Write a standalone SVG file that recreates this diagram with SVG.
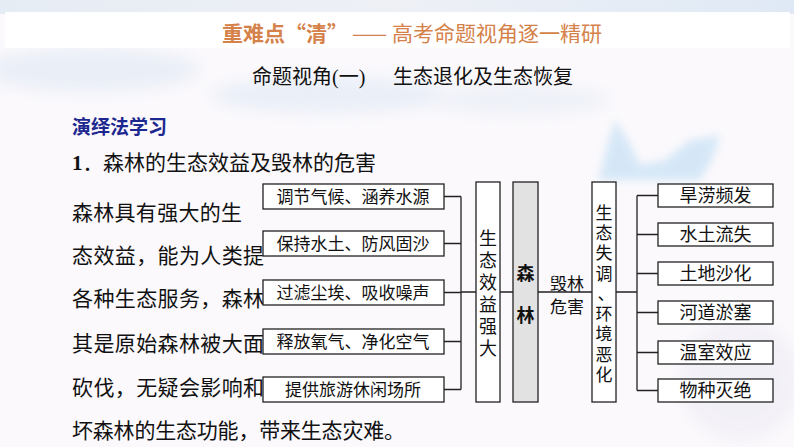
<svg xmlns="http://www.w3.org/2000/svg" width="794" height="447" viewBox="0 0 794 447">
<defs>
<filter id="blur8" x="-50%" y="-50%" width="200%" height="200%"><feGaussianBlur stdDeviation="8"/></filter>
<filter id="blur4" x="-50%" y="-50%" width="200%" height="200%"><feGaussianBlur stdDeviation="4"/></filter>
<linearGradient id="topg" x1="0" y1="0" x2="1" y2="0">
<stop offset="0" stop-color="#e6ecf4"/><stop offset="0.5" stop-color="#eef0f6"/><stop offset="1" stop-color="#dfe9f5"/>
</linearGradient>
<style>
.body{font-family:"Liberation Serif","Noto Sans CJK SC",serif;font-size:21px;fill:#111}
.box{fill:#fff;stroke:#222;stroke-width:1.3}
.gbox{fill:#e2e2e2;stroke:#222;stroke-width:1.3}
.bt{font-family:"Liberation Serif","Noto Sans CJK SC",serif;font-size:17px;fill:#111;text-anchor:middle}
.rt{font-family:"Liberation Serif","Noto Sans CJK SC",serif;font-size:18px;fill:#111;text-anchor:middle}
.vt{font-family:"Liberation Serif","Noto Sans CJK SC",serif;font-size:18px;fill:#111;text-anchor:middle}
.vs{font-family:"Liberation Serif","Noto Sans CJK SC",serif;font-size:17px;fill:#111;text-anchor:middle}
.ln{fill:none;stroke:#222;stroke-width:1.3}
</style>
</defs>
<!-- background -->
<rect x="0" y="0" width="794" height="447" fill="#fbf9fc"/>
<rect x="0" y="0" width="794" height="14" fill="url(#topg)"/>
<g filter="url(#blur8)" opacity="0.55">
<ellipse cx="90" cy="70" rx="110" ry="22" fill="#dce6f3"/>
<ellipse cx="330" cy="95" rx="120" ry="18" fill="#dbe6f4"/>
<ellipse cx="520" cy="100" rx="90" ry="15" fill="#e3eaf5"/>
<ellipse cx="740" cy="380" rx="60" ry="60" fill="#ece9f3"/>
</g>
<g filter="url(#blur4)" opacity="0.45">
<path d="M598 180 L606 150 L615 120 L628 140 L640 165 L665 160 L690 140 L720 135 L712 160 L700 180 Z" fill="#a9d3f2"/>
</g>
<rect x="5" y="12" width="785" height="36" fill="#ffffff" opacity="0.92"/>
<!-- titles -->
<text x="222" y="41" font-family="'Noto Sans CJK SC',sans-serif" font-size="21" font-weight="bold" fill="#d5824a">重难点“清”</text>
<text x="352" y="41" font-family="'Noto Sans CJK SC',sans-serif" font-size="21" fill="#d5824a">—— 高考命题视角逐一精研</text>
<text x="252" y="84" font-family="'Liberation Serif','Noto Sans CJK SC',serif" font-size="20" fill="#111">命题视角(一)<tspan x="393">生态退化及生态恢复</tspan></text>
<text x="72" y="134" font-family="'Noto Sans CJK SC',sans-serif" font-size="19" font-weight="bold" fill="#1d2790">演绎法学习</text>
<!-- body text -->
<text class="body" x="72" y="170"><tspan font-weight="bold">1</tspan>．<tspan x="103">森林的生态效益及毁林的危害</tspan></text>
<text class="body" x="72" y="219.5" textLength="170" lengthAdjust="spacing">森林具有强大的生</text>
<text class="body" x="72" y="262.5" textLength="192" lengthAdjust="spacing">态效益，能为人类提</text>
<text class="body" x="72" y="305.5" textLength="192" lengthAdjust="spacing">各种生态服务，森林</text>
<text class="body" x="72" y="350.5" textLength="192" lengthAdjust="spacing">其是原始森林被大面</text>
<text class="body" x="72" y="394.5" textLength="192" lengthAdjust="spacing">砍伐，无疑会影响和</text>
<text class="body" x="72" y="437.5" textLength="333" lengthAdjust="spacing">坏森林的生态功能，带来生态灾难。</text>
<!-- connectors -->
<g id="connectors">
<path class="ln" d="M444 196.5 H461 M444 243.5 H461 M444 292.5 H461 M444 341.5 H461 M444 389.5 H461 M461 196.5 V389.5 M461 292 H476"/>
<path class="ln" d="M500 292 H513 M538 292 H592 M616 292 H637 M637 195.5 V390.5"/>
<path class="ln" d="M637 195.5 H658 M637 234.5 H658 M637 273.5 H658 M637 312.5 H658 M637 352.5 H658 M637 390.5 H658"/>
<text class="bt" x="567" y="289.5">毁林</text>
<text class="bt" x="567" y="312.5">危害</text>
</g>
<!-- left boxes -->
<g id="n_l1"><rect class="box" x="263" y="184" width="181" height="25"/><text class="bt" x="353" y="203">调节气候、涵养水源</text></g>
<g id="n_l2"><rect class="box" x="263" y="231" width="181" height="25"/><text class="bt" x="353" y="250">保持水土、防风固沙</text></g>
<g id="n_l3"><rect class="box" x="263" y="280" width="181" height="25"/><text class="bt" x="353" y="299">过滤尘埃、吸收噪声</text></g>
<g id="n_l4"><rect class="box" x="263" y="329" width="181" height="25"/><text class="bt" x="353" y="348">释放氧气、净化空气</text></g>
<g id="n_l5"><rect class="box" x="263" y="377" width="181" height="25"/><text class="bt" x="353" y="396">提供旅游休闲场所</text></g>
<!-- vertical boxes -->
<g id="n_benefit"><rect class="box" x="476" y="182" width="24" height="220"/>
<text class="vt" x="488" y="244.5">生</text><text class="vt" x="488" y="266.5">态</text><text class="vt" x="488" y="289">效</text><text class="vt" x="488" y="311">益</text><text class="vt" x="488" y="333">强</text><text class="vt" x="488" y="354.5">大</text></g>
<g id="n_forest"><rect class="gbox" x="513" y="182" width="25" height="220"/>
<text class="vt" x="525.5" y="279.5" font-weight="bold">森</text><text class="vt" x="525.5" y="321.5" font-weight="bold">林</text></g>
<g id="n_harm"><rect class="box" x="592" y="182" width="24" height="220"/>
<text class="vs" x="604" y="218.6">生</text><text class="vs" x="604" y="238.9">态</text><text class="vs" x="604" y="259.2">失</text><text class="vs" x="604" y="279.5">调</text><text class="vs" x="606" y="299.8">、</text><text class="vs" x="604" y="320.1">环</text><text class="vs" x="604" y="340.4">境</text><text class="vs" x="604" y="360.7">恶</text><text class="vs" x="604" y="381">化</text></g>
<!-- right boxes -->
<g id="n_r1"><rect class="box" x="658" y="184" width="115" height="23"/><text class="rt" x="715.5" y="202">旱涝频发</text></g>
<g id="n_r2"><rect class="box" x="658" y="223" width="115" height="23"/><text class="rt" x="715.5" y="241">水土流失</text></g>
<g id="n_r3"><rect class="box" x="658" y="262" width="115" height="23"/><text class="rt" x="715.5" y="280">土地沙化</text></g>
<g id="n_r4"><rect class="box" x="658" y="301" width="115" height="23"/><text class="rt" x="715.5" y="319">河道淤塞</text></g>
<g id="n_r5"><rect class="box" x="658" y="341" width="115" height="23"/><text class="rt" x="715.5" y="359">温室效应</text></g>
<g id="n_r6"><rect class="box" x="658" y="379" width="115" height="23"/><text class="rt" x="715.5" y="397">物种灭绝</text></g>
</svg>
